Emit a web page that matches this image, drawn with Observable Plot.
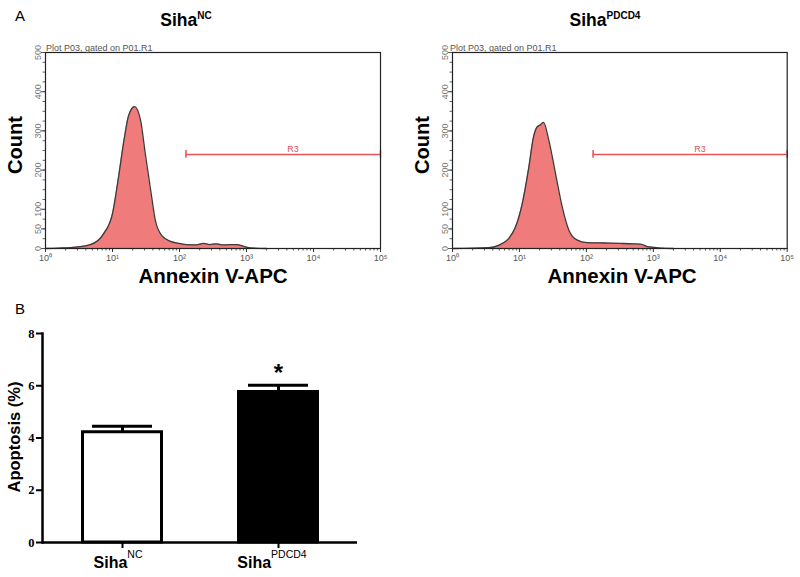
<!DOCTYPE html>
<html>
<head>
<meta charset="utf-8">
<script src="https://cdn.jsdelivr.net/npm/d3@7"></script>
<script src="https://cdn.jsdelivr.net/npm/@observablehq/plot@0.6"></script>
<style>
  html, body { margin: 0; padding: 0; background: #fff; }
  #wrap { position: relative; width: 800px; height: 577px; overflow: hidden; background: #fff; }
  #wrap > svg, #wrap > .panel { position: absolute; }
  .panel svg { display: block; }
</style>
</head>
<body>
<div id="wrap"></div>
<script>
// ---------- DATA ----------
// Panel A, left: Siha NC histogram (Annexin V-APC intensity, count)
const ncIntensity = [1, 1.6, 2.6, 4.7, 7.4, 10, 12.3, 14.8, 17.4, 21.4, 26.3, 30.9, 37.2, 43.7, 55, 74, 100, 129, 178, 229, 282, 355, 447, 562, 724, 891, 1023, 1259, 2000];
const ncCount     = [0, 1, 3, 10, 38, 89, 182, 275, 339, 362, 326, 241, 148, 71, 32, 18, 13, 10, 9, 13, 10, 12, 9, 10, 10, 6, 3, 1, 0];
// Panel A, right: Siha PDCD4 histogram
const pdIntensity = [1, 3.5, 4.9, 6.9, 8.7, 11, 13.8, 16.2, 18.2, 20.4, 22.9, 27.5, 34.7, 43.7, 55, 72, 102, 182, 324, 500, 646, 813, 1000, 1288, 2000];
const pdCount     = [0, 2, 8, 25, 54, 114, 207, 284, 309, 315, 322, 276, 190, 105, 46, 22, 15, 14, 13, 12, 11, 5, 3, 1, 0];
// R3 gate (start intensity, end intensity, count level)
const gateStart = [125, 126];
const gateEnd = 100000;
const gateLevel = 240;
const gateName = "R3";
// Axis ticks
const xMajorTicks = [1, 10, 100, 1000, 10000, 100000];
const xTickLabels = ["10\u2070", "10\u00b9", "10\u00b2", "10\u00b3", "10\u2074", "10\u2075"];
const yTicksCount = [0, 50, 100, 200, 300, 400, 500];
const plotHeader = "Plot P03, gated on P01.R1";
// Panel B: apoptosis bar chart
const groups = ["NC", "PDCD4"];
const apoptosis = [4.22, 5.76];
const apoptosisSem = [0.23, 0.26];
const barFills = ["#ffffff", "#000000"];
const significance = ["", "*"];
const yTicksApop = [0, 2, 4, 6, 8];

// ---------- helpers ----------
const SANS = "'Liberation Sans', Arial, Helvetica, sans-serif";
const SERIF = "'Liberation Serif', 'Times New Roman', serif";
const wrap = document.getElementById("wrap");

function histogram(intens, counts, gStart, width, marginRight) {
  const data = intens.map((v, i) => ({x: v, y: counts[i]}));
  const minor = [];
  for (let d = 0; d < 5; d++) for (let k = 2; k <= 9; k++) minor.push(k * Math.pow(10, d));
  const minorY = d3.range(0, 501, 25);
  return Plot.plot({
    width, height: 290,
    marginLeft: 45, marginRight, marginTop: 52, marginBottom: 42,
    style: {fontFamily: SANS, background: "transparent"},
    x: {type: "log", domain: [1, 100000], label: null},
    y: {domain: [0, 500], label: null},
    marks: [
      Plot.areaY(data, {x: "x", y: "y", fill: "#f07b7b", curve: "monotone-x"}),
      Plot.lineY(data, {x: "x", y: "y", stroke: "#3a3a3a", strokeWidth: 1.3, curve: "monotone-x"}),
      Plot.ruleY([gateLevel], {x1: gStart, x2: gateEnd, stroke: "#e8505a", strokeWidth: 1.5}),
      Plot.ruleX([gStart, gateEnd], {y1: gateLevel - 10, y2: gateLevel + 10, stroke: "#e8505a", strokeWidth: 1.5}),
      Plot.text([gateName], {x: Math.sqrt(gStart * gateEnd) * 1.4, y: gateLevel, dy: -5, fill: "#e05058", fontSize: 9}),
      Plot.axisX({ticks: minor, tickFormat: () => "", tickSize: 2.5, stroke: "#555"}),
      Plot.axisX({ticks: xMajorTicks, tickFormat: d => xTickLabels[xMajorTicks.indexOf(d)], tickSize: 4, tickPadding: 2, fontSize: 9, fill: "#555", stroke: "#333"}),
      Plot.axisY({ticks: minorY, tickFormat: () => "", tickSize: 2.5, stroke: "#666"}),
      Plot.axisY({ticks: yTicksCount, tickRotate: -90, tickSize: 4, tickPadding: 1, fontSize: 9, fill: "#777", stroke: "#555"}),
      Plot.frame({stroke: "#222", strokeWidth: 1.2})
    ]
  });
}

function place(node, left, top) {
  const div = document.createElement("div");
  div.className = "panel";
  div.style.left = left + "px";
  div.style.top = top + "px";
  div.appendChild(node);
  wrap.appendChild(div);
}

place(histogram(ncIntensity, ncCount, gateStart[0], 400, 20), 0, 0);
place(histogram(pdIntensity, pdCount, gateStart[1], 393, 13.3), 407, 0);

// ---------- Panel B ----------
const bars = groups.map((g, i) => ({g, v: apoptosis[i], top: apoptosis[i] + apoptosisSem[i], fill: barFills[i], sig: significance[i]}));
const barPlot = Plot.plot({
  width: 400, height: 287,
  marginLeft: 42, marginRight: 43, marginTop: 43, marginBottom: 35,
  style: {fontFamily: SANS, background: "transparent"},
  x: {domain: groups, paddingInner: 0.476, paddingOuter: 0.246, label: null},
  y: {domain: [0, 8], label: null},
  marks: [
    Plot.ruleX(bars, {x: "g", y1: "v", y2: "top", stroke: "#000", strokeWidth: 3}),
    Plot.tickY(bars, {x: "g", y: "top", stroke: "#000", strokeWidth: 3, insetLeft: 11, insetRight: 11}),
    Plot.barY(bars, {x: "g", y: "v", fill: "fill", stroke: "#000", strokeWidth: 3, insetLeft: 1.5, insetRight: 1.5}),
    Plot.text(bars, {x: "g", y: "top", text: "sig", dy: -12, fontSize: 24, fontWeight: "bold", fill: "#000"}),
    Plot.axisX({tickFormat: () => "", tickSize: 6, stroke: "#000", strokeWidth: 2}),
    Plot.axisY({ticks: yTicksApop, tickSize: 6, tickPadding: 2, fontSize: 12.5, fontWeight: "bold", fontFamily: SERIF, fill: "#000", stroke: "#000", strokeWidth: 2}),
    Plot.frame({anchor: "left", stroke: "#000", strokeWidth: 2.5}),
    Plot.ruleY([0], {stroke: "#000", strokeWidth: 2.5})
  ]
});
place(barPlot, 0, 290);

// ---------- overlay text ----------
const ov = d3.select(wrap).append("svg")
  .attr("width", 800).attr("height", 577)
  .style("left", "0px").style("top", "0px")
  .style("pointer-events", "none")
  .style("font-family", SANS);

function label(x, y, main, sup, size, supSize, supShift, opts = {}) {
  const t = ov.append("text")
    .attr("x", x).attr("y", y)
    .attr("text-anchor", opts.anchor || "middle")
    .attr("font-size", size)
    .attr("font-weight", opts.weight || "bold")
    .attr("fill", opts.fill || "#000");
  if (opts.rotate) t.attr("transform", `rotate(-90 ${x} ${y})`);
  t.append("tspan").text(main);
  if (sup) {
    t.append("tspan").attr("font-size", supSize).attr("dy", -supShift).attr("font-weight", opts.supWeight || "bold").text(sup);
  }
  return t;
}

// Panel letters
label(20, 21, "A", null, 15, 0, 0, {weight: "normal"});
label(20, 314, "B", null, 15, 0, 0, {weight: "normal"});

// Panel A titles
label(186, 26, "Siha", groups[0], 17.5, 10, 7);
label(605, 26, "Siha", groups[1], 17.5, 10, 7);

// Plot headers
label(46, 50.5, plotHeader, null, 9, 0, 0, {anchor: "start", weight: "normal", fill: "#555"});
label(450, 50.5, plotHeader, null, 9, 0, 0, {anchor: "start", weight: "normal", fill: "#555"});

// Axis titles panel A
label(22, 145, "Count", null, 20, 0, 0, {rotate: true});
label(429, 145, "Count", null, 20, 0, 0, {rotate: true});
label(213, 283, "Annexin V-APC", null, 20.5, 0, 0);
label(622, 283, "Annexin V-APC", null, 20.5, 0, 0);

// Panel B axis titles
label(20, 437, "Apoptosis (%)", null, 16.5, 0, 0, {rotate: true});
label(118, 568, "Siha", groups[0], 16, 10.5, 10, {supWeight: "normal"});
label(272, 568, "Siha", groups[1], 16, 10.5, 10, {supWeight: "normal"});
</script>
</body>
</html>
